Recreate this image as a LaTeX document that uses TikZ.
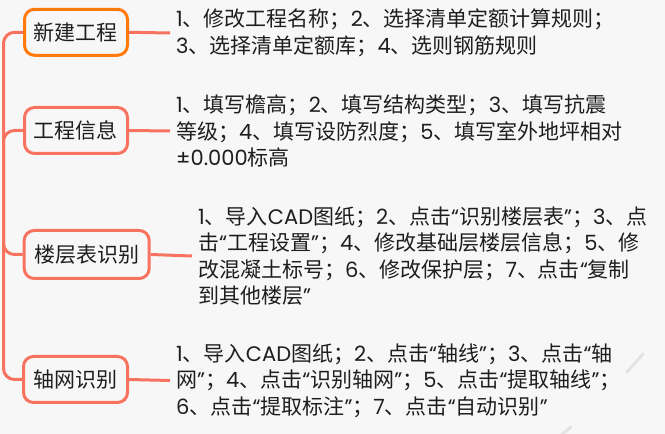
\documentclass[tikz,border=0pt]{standalone}
\usepackage{fontspec}
\setmainfont{Noto Sans CJK SC}
\newfontfamily\poppins{Poppins}
\newcommand\lt[1]{{\poppins #1}}
\definecolor{bgc}{HTML}{F7F7F7}
\definecolor{orangec}{HTML}{FF7A0A}
\definecolor{coralc}{HTML}{F7735F}
\definecolor{txtc}{HTML}{1E1E1E}
\definecolor{wmc}{HTML}{E3E3E3}
\tikzset{
  topicbox/.style={draw=coralc, line width=3pt, rounded corners=10pt, fill=bgc,
    inner sep=0pt, text=txtc, font=\fontsize{21}{21}\selectfont},
  notetext/.style={anchor=west, align=left, inner xsep=6pt, inner ysep=0pt, text=txtc,
    font=\fontsize{21}{26.5}\selectfont},
  branch/.style={draw=coralc, line width=3pt, rounded corners=11pt},
  link/.style={draw=coralc, line width=3pt},
}
\begin{document}
\begin{tikzpicture}[x=1pt,y=1pt]
\useasboundingbox (0,0) rectangle (665,434);
\fill[bgc] (0,0) rectangle (665,434);
% watermark strokes
\draw[wmc, line width=3pt, line cap=round] (627,62) -- (643,80);
\draw[wmc, line width=3pt, line cap=round] (560,-2) -- (571,7);

\coordinate (hub) at (3.5,217);

\node[topicbox, draw=orangec, minimum width=103pt, minimum height=46pt] (n1) at (76,401.7) {新建工程};
\node[topicbox, minimum width=103pt, minimum height=46pt] (n2) at (76,303.5) {工程信息};
\node[topicbox, minimum width=125pt, minimum height=48pt] (n3) at (86.7,179.5) {楼层表识别};
\node[topicbox, minimum width=104pt, minimum height=46pt] (n4) at (75.5,54.5) {轴网识别};

\node[notetext] (t1) at (170,401) {\lt{1}、修改工程名称；\lt{2}、选择清单定额计算规则；\\\lt{3}、选择清单定额库；\lt{4}、选则钢筋规则};
\node[notetext] (t2) at (170,303) {\lt{1}、填写檐高；\lt{2}、填写结构类型；\lt{3}、填写抗震\\等级；\lt{4}、填写设防烈度；\lt{5}、填写室外地坪相对\\\lt{±0.000}标高};
\node[notetext] (t3) at (192,178) {\lt{1}、导入\lt{CAD}图纸；\lt{2}、点击\lt{“}识别楼层表\lt{”}；\lt{3}、点\\击\lt{“}工程设置\lt{”}；\lt{4}、修改基础层楼层信息；\lt{5}、修\\改混凝土标号；\lt{6}、修改保护层；\lt{7}、点击\lt{“}复制\\到其他楼层\lt{”}};
\node[notetext] (t4) at (170,53.5) {\lt{1}、导入\lt{CAD}图纸；\lt{2}、点击\lt{“}轴线\lt{”}；\lt{3}、点击\lt{“}轴\\网\lt{”}；\lt{4}、点击\lt{“}识别轴网\lt{”}；\lt{5}、点击\lt{“}提取轴线\lt{”}；\\\lt{6}、点击\lt{“}提取标注\lt{”}；\lt{7}、点击\lt{“}自动识别\lt{”}};

\draw[branch] (hub) |- (n1.west);
\draw[branch] (hub) |- (n2.west);
\draw[branch] (hub) |- (n3.west);
\draw[branch] (hub) |- (n4.west);

\draw[link] (n1.east) -- (t1.west);
\draw[link] (n2.east) -- (t2.west);
\draw[link] (n3.east) -- (t3.west);
\draw[link] (n4.east) -- (t4.west);
\end{tikzpicture}
\end{document}
